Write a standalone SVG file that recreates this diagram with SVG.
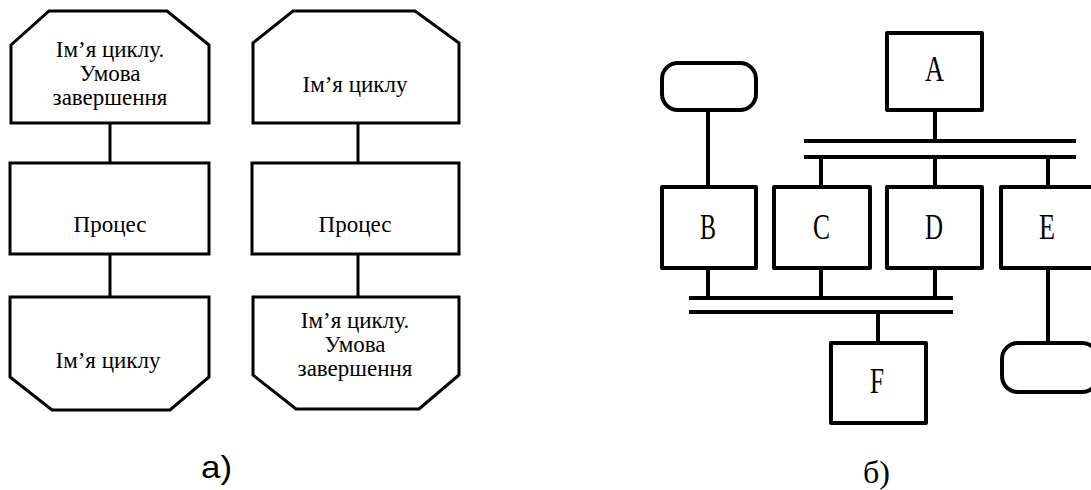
<svg xmlns="http://www.w3.org/2000/svg" width="1091" height="490" viewBox="0 0 1091 490">
<style>
.s{fill:#fff;stroke:#000;stroke-width:3;stroke-linejoin:miter}
.b{fill:#fff;stroke:#000;stroke-width:4;stroke-linejoin:round}
.c{stroke:#000;stroke-width:3;fill:none}
.cb{stroke:#000;stroke-width:4;fill:none}
.t{font-size:23px;fill:#000;text-anchor:middle}
.L{font-size:36px;fill:#000}
.cap{font-size:32px;fill:#000}
.capb{font-size:32px;fill:#000}
</style>
<rect width="1091" height="490" fill="#fff"/>
<g id="connectors">
<line class="c" x1="110" y1="123" x2="110" y2="163"/>
<line class="c" x1="110" y1="254" x2="110" y2="297"/>
<line class="c" x1="358" y1="123" x2="358" y2="163"/>
<line class="c" x1="358" y1="254" x2="358" y2="297"/>
<line class="cb" x1="708" y1="110" x2="708" y2="187"/>
<line class="cb" x1="935" y1="110" x2="935" y2="141"/>
<line class="cb" x1="804" y1="141" x2="1076" y2="141"/>
<line class="cb" x1="804" y1="157" x2="1076" y2="157"/>
<line class="cb" x1="821" y1="157" x2="821" y2="187"/>
<line class="cb" x1="935" y1="157" x2="935" y2="187"/>
<line class="cb" x1="1048" y1="157" x2="1048" y2="187"/>
<line class="cb" x1="708" y1="268" x2="708" y2="298"/>
<line class="cb" x1="821" y1="268" x2="821" y2="298"/>
<line class="cb" x1="935" y1="268" x2="935" y2="298"/>
<line class="cb" x1="689" y1="298" x2="953" y2="298"/>
<line class="cb" x1="689" y1="312" x2="953" y2="312"/>
<line class="cb" x1="878" y1="312" x2="878" y2="343"/>
<line class="cb" x1="1048" y1="268" x2="1048" y2="343"/>
</g>
<g font-family="Liberation Serif, Tinos, Times New Roman, DejaVu Serif, serif">
<g id="loop-start-1">
<polygon class="s" points="11,45 49,11 167,11 209,45 209,123 11,123"/>
<text class="t" x="110" y="57">Ім’я циклу.</text>
<text class="t" x="110" y="81">Умова</text>
<text class="t" x="110" y="105">завершення</text>
</g>
<g id="process-1">
<rect class="s" x="10" y="163" width="199" height="91"/>
<text class="t" x="110" y="232">Процес</text>
</g>
<g id="loop-end-1">
<polygon class="s" points="10,297 209,297 209,377 170,410 52,410 10,377"/>
<text class="t" x="108" y="368">Ім’я циклу</text>
</g>
<g id="loop-start-2">
<polygon class="s" points="253,43 293,11 415,11 459,43 459,123 253,123"/>
<text class="t" x="355" y="92">Ім’я циклу</text>
</g>
<g id="process-2">
<rect class="s" x="252" y="163" width="207" height="91"/>
<text class="t" x="355" y="232">Процес</text>
</g>
<g id="loop-end-2">
<polygon class="s" points="253,297 459,297 459,375 419,409 296,409 253,375"/>
<text class="t" x="355" y="328">Ім’я циклу.</text>
<text class="t" x="355" y="352">Умова</text>
<text class="t" x="355" y="376">завершення</text>
</g>
<g id="label-a"><text class="cap" x="201" y="478" textLength="31" lengthAdjust="spacingAndGlyphs" font-family="Liberation Sans, Arial, sans-serif">а)</text></g>
<g id="term-top"><rect class="b" x="662" y="63" width="94" height="47" rx="16" ry="16"/></g>
<g id="node-A"><rect class="b" x="887" y="33" width="95" height="77"/><text class="L" x="925" y="81" textLength="19" lengthAdjust="spacingAndGlyphs">A</text></g>
<g id="node-B"><rect class="b" x="662" y="187" width="94" height="81"/><text class="L" x="700" y="239" textLength="16" lengthAdjust="spacingAndGlyphs">B</text></g>
<g id="node-C"><rect class="b" x="774" y="187" width="96" height="81"/><text class="L" x="813" y="239" textLength="17" lengthAdjust="spacingAndGlyphs">C</text></g>
<g id="node-D"><rect class="b" x="887" y="187" width="95" height="81"/><text class="L" x="925" y="239" textLength="18" lengthAdjust="spacingAndGlyphs">D</text></g>
<g id="node-E"><rect class="b" x="1001" y="187" width="96" height="81"/><text class="L" x="1039" y="239" textLength="16" lengthAdjust="spacingAndGlyphs">E</text></g>
<g id="node-F"><rect class="b" x="831" y="343" width="95" height="80"/><text class="L" x="870" y="393" textLength="14" lengthAdjust="spacingAndGlyphs">F</text></g>
<g id="term-bottom"><rect class="b" x="1002" y="343" width="96" height="49" rx="16" ry="16"/></g>
<g id="label-b"><text class="capb" x="863" y="483">б)</text></g>
</g>
</svg>
